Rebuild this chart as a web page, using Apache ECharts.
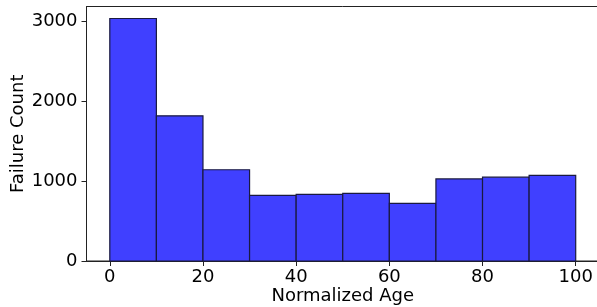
<!DOCTYPE html>
<html><head><meta charset="utf-8">
<script src="https://cdn.jsdelivr.net/npm/echarts@6/dist/echarts.min.js"></script>
<style>html,body{margin:0;padding:0;background:#fff}#c{width:597px;height:307px}</style>
</head><body><div id="c"></div>
<script>
const binStarts = [0, 10, 20, 30, 40, 50, 60, 70, 80, 90];
const binEnds = [10, 20, 30, 40, 50, 60, 70, 80, 90, 100];
const counts = [3030, 1814, 1140, 820, 832, 845, 720, 1025, 1048, 1070];
const xTicks = [0, 20, 40, 60, 80, 100];
const yTicks = [0, 1000, 2000, 3000];

const data = binStarts.map((s, i) => [s, binEnds[i], counts[i]]);
const chart = echarts.init(document.getElementById('c'), null, {renderer: 'canvas'});
const font = 'DejaVu Sans';
chart.setOption({
  animation: false,
  grid: {left: 86.5, top: 6.5, width: 512.5, height: 254.5, outerBoundsMode: 'none', containLabel: false,
         show: true, borderColor: '#222', borderWidth: 1, backgroundColor: 'transparent'},
  xAxis: {
    type: 'value', min: -5, max: 105,
    name: 'Normalized Age', nameLocation: 'middle', nameGap: 26, nameMoveOverlap: false,
    nameTextStyle: {fontFamily: font, fontSize: 18, color: '#000'},
    axisLine: {show: true, onZero: false, lineStyle: {color: '#222', width: 1}},
    axisTick: {show: true, length: 5, customValues: xTicks, lineStyle: {color: '#222'}},
    axisLabel: {customValues: xTicks, margin: 7, fontFamily: font, fontSize: 18, color: '#000', formatter: v => String(v)},
    splitLine: {show: false}
  },
  yAxis: {
    type: 'value', min: 0, max: 3180,
    name: 'Failure Count', nameLocation: 'middle', nameGap: 59, nameMoveOverlap: false,
    nameTextStyle: {fontFamily: font, fontSize: 18, color: '#000'},
    axisLine: {show: true, onZero: false, lineStyle: {color: '#222', width: 1}},
    axisTick: {show: true, length: 5, customValues: yTicks, lineStyle: {color: '#222'}},
    axisLabel: {customValues: yTicks, margin: 9, fontFamily: font, fontSize: 18, color: '#000', formatter: v => String(v)},
    splitLine: {show: false}
  },
  series: [{
    type: 'custom',
    data: data,
    encode: {x: [0, 1], y: 2},
    renderItem: function (params, api) {
      const p0 = api.coord([api.value(0), api.value(2)]);
      const p1 = api.coord([api.value(1), 0]);
      return {
        type: 'rect',
        shape: {x: p0[0], y: p0[1], width: p1[0] - p0[0], height: p1[1] - p0[1]},
        style: {fill: '#4040ff', stroke: '#1a1a40', lineWidth: 1.2}
      };
    }
  }]
});
</script></body></html>
